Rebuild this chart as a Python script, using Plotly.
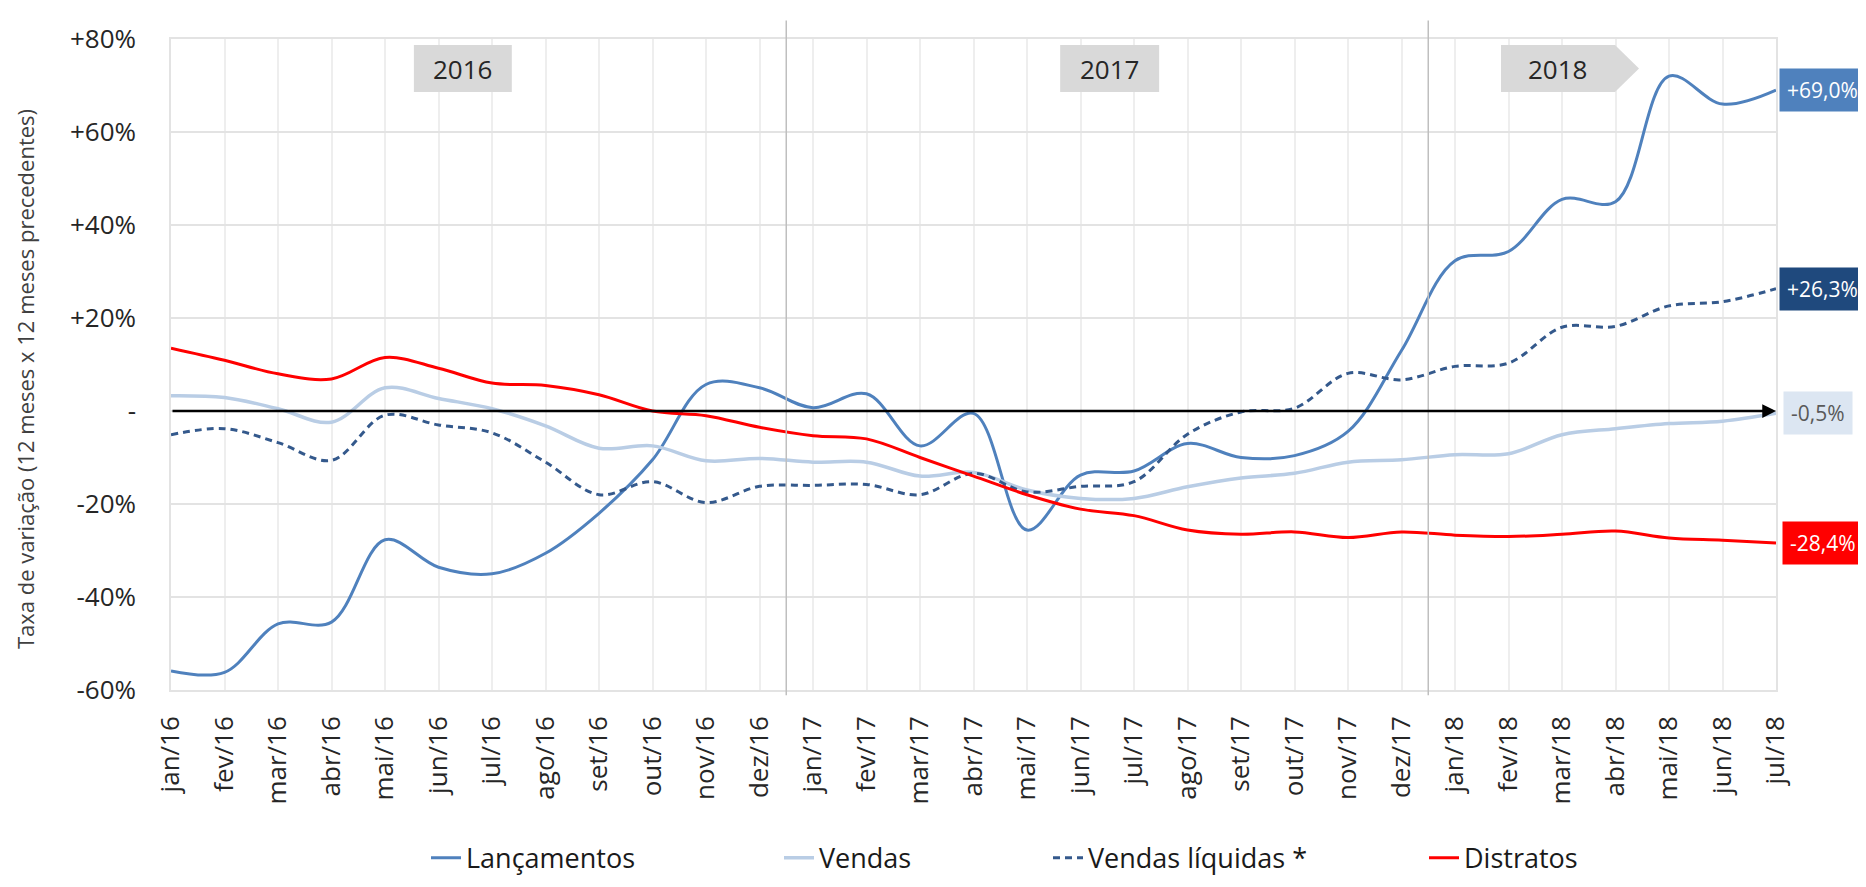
import plotly.graph_objects as go

months = ['jan/16', 'fev/16', 'mar/16', 'abr/16', 'mai/16', 'jun/16', 'jul/16', 'ago/16',
          'set/16', 'out/16', 'nov/16', 'dez/16', 'jan/17', 'fev/17', 'mar/17', 'abr/17',
          'mai/17', 'jun/17', 'jul/17', 'ago/17', 'set/17', 'out/17', 'nov/17', 'dez/17',
          'jan/18', 'fev/18', 'mar/18', 'abr/18', 'mai/18', 'jun/18', 'jul/18']

lancamentos = [-55.9, -56.2, -45.8, -45.4, -27.7, -33.6, -35.0, -30.6, -22.0, -10.5, 5.7,
               5.0, 0.7, 3.7, -7.5, -0.5, -25.6, -13.8, -12.9, -7.0, -10.0, -9.6, -4.4,
               13.0, 32.3, 34.3, 45.5, 45.0, 72.0, 66.0, 69.0]
vendas = [3.3, 2.9, 0.5, -2.4, 5.0, 2.7, 0.5, -3.2, -8.0, -7.5, -10.7, -10.2, -11.0, -11.0,
          -14.0, -13.2, -17.0, -18.8, -18.8, -16.3, -14.4, -13.4, -11.0, -10.5, -9.4, -9.2,
          -5.1, -3.8, -2.7, -2.2, -0.5]
vendas_liquidas = [-5.1, -3.8, -6.8, -10.6, -0.9, -3.0, -4.7, -11.0, -18.0, -15.2, -19.7,
                   -16.2, -16.0, -15.8, -18.0, -13.4, -17.4, -16.2, -15.2, -5.0, -0.2, 0.6,
                   8.1, 6.7, 9.6, 10.3, 18.0, 18.2, 22.6, 23.5, 26.3]
distratos = [13.5, 10.9, 8.0, 6.9, 11.5, 9.2, 6.0, 5.5, 3.5, 0.0, -1.0, -3.5, -5.3, -6.0,
             -10.0, -14.0, -18.0, -21.1, -22.5, -25.6, -26.5, -26.0, -27.2, -26.0, -26.7,
             -27.0, -26.5, -25.8, -27.3, -27.8, -28.4]

series_names = ['Lançamentos', 'Vendas', 'Vendas líquidas *', 'Distratos']
y_tickvals = [-60, -40, -20, 0, 20, 40, 60, 80]
y_ticktext = ['-60%', '-40%', '-20%', '-', '+20%', '+40%', '+60%', '+80%']
years = ['2016', '2017', '2018']

FONT = 'Open Sans'
TXT = '#404040'

colors = ['#4F81BD', '#B9CDE5', '#34598C', '#FF0000']
dashes = ['solid', 'solid', '7px,5px', 'solid']
widths = [3, 3.5, 3, 3]
data = [lancamentos, vendas, vendas_liquidas, distratos]
legend_ids = ['legend', 'legend2', 'legend3', 'legend4']

fig = go.Figure()
for name, vals, c, d, w, lg in zip(series_names, data, colors, dashes, widths, legend_ids):
    fig.add_trace(go.Scatter(
        x=months, y=vals, name=name, mode='lines',
        line=dict(color=c, width=w, dash=d, shape='spline', smoothing=1.0),
        legend=lg,
    ))

W, H = 1866, 887
L, R, T, B = 163, 98, 26, 191
pw = W - L - R
ph = H - T - B

legend_text_x = [460, 813, 1082, 1458]
legend_layout = {}
for lg, tx in zip(legend_ids, legend_text_x):
    legend_layout[lg] = dict(orientation='h', yanchor='middle', xanchor='left',
                             x=(tx - 42 - L) / pw, y=-(869 - (T + ph)) / ph,
                             font=dict(family=FONT, size=27, color='#1a1a1a'),
                             bgcolor='rgba(0,0,0,0)', itemwidth=30)

shapes = []
# year separators
for xs in [11.5, 23.5]:
    shapes.append(dict(type='line', xref='x', yref='paper', x0=xs, x1=xs,
                       y0=-0.008, y1=1 + 19 / ph, line=dict(color='#BFBFBF', width=1.5)))

# year boxes (x in month index, y in %)
box_top, box_bot = 78.7, 68.6
boxes = [(4.54, 6.37), (16.62, 18.47), (24.86, 26.99)]
for i, (x0, x1) in enumerate(boxes):
    if i < 2:
        shapes.append(dict(type='rect', xref='x', yref='y', x0=x0, x1=x1, y0=box_bot, y1=box_top,
                           fillcolor='#D9D9D9', line=dict(width=0), layer='above'))
    else:
        px = lambda v: v / 30.0
        tip = 27.44
        ymid = (box_top + box_bot) / 2
        path = (f'M {px(x0)} {box_bot} L {px(x1)} {box_bot} L {px(tip)} {ymid} '
                f'L {px(x1)} {box_top} L {px(x0)} {box_top} Z')
        shapes.append(dict(type='path', xref='paper', yref='y', path=path,
                           fillcolor='#D9D9D9', line=dict(width=0), layer='above'))

annotations = []
for (x0, x1), yr in zip(boxes, years):
    annotations.append(dict(x=(x0 + x1) / 2, y=(box_top + box_bot) / 2, xref='x', yref='y',
                            text=yr, showarrow=False,
                            font=dict(family=FONT, size=26, color='#262626')))

# zero arrow
annotations.append(dict(x=len(months) - 1, y=0, ax=0, ay=0, xref='x', yref='y',
                        axref='x', ayref='y', text='', showarrow=True, arrowhead=2,
                        arrowsize=1.1, arrowwidth=2.5, arrowcolor='#000000'))

# end labels
label_bg = ['#4F81BD', '#DCE6F2', '#1F497D', '#FF0000']
label_fg = ['#FFFFFF', '#595959', '#FFFFFF', '#FFFFFF']
label_shift = [3, 7, 3, 6]
for vals, bg, fg, sh in zip(data, label_bg, label_fg, label_shift):
    v = vals[-1]
    txt = f'{v:+.1f}%'.replace('.', ',')
    annotations.append(dict(x=1, y=v, xref='paper', yref='y', xanchor='left', yanchor='middle',
                            xshift=sh, text=txt, showarrow=False, bgcolor=bg, borderpad=7,
                            font=dict(family=FONT, size=21, color=fg)))

# y axis title
annotations.append(dict(x=(17 - L) / pw, y=(H - B - 376) / ph, xref='paper', yref='paper',
                        xanchor='center', yanchor='middle',
                        text='Taxa de variação (12 meses x 12 meses precedentes)',
                        textangle=-90, showarrow=False,
                        font=dict(family=FONT, size=22, color=TXT)))

fig.update_layout(
    width=W, height=H,
    margin=dict(l=L, r=R, t=T, b=B),
    plot_bgcolor='white', paper_bgcolor='white',
    font=dict(family=FONT, color=TXT),
    shapes=shapes, annotations=annotations,
    showlegend=True,
    **legend_layout,
)
fig.update_xaxes(type='category', range=[0, len(months) - 1], tickangle=-90,
                 tickfont=dict(family=FONT, size=26, color='#262626'),
                 showgrid=True, gridcolor='#EEEEEE', gridwidth=1.5,
                 showline=True, linecolor='#E3E3E3', linewidth=1.5, mirror=True,
                 ticks='', ticklabelstandoff=14, zeroline=False)
fig.update_yaxes(range=[-60, 80], tickvals=y_tickvals, ticktext=y_ticktext,
                 tickfont=dict(family=FONT, size=26, color='#262626'),
                 showgrid=True, gridcolor='#E3E3E3', gridwidth=1.5,
                 showline=True, linecolor='#E3E3E3', linewidth=1.5, mirror=True,
                 ticks='', ticklabelstandoff=28, zeroline=False)

fig.write_html('out.html')
